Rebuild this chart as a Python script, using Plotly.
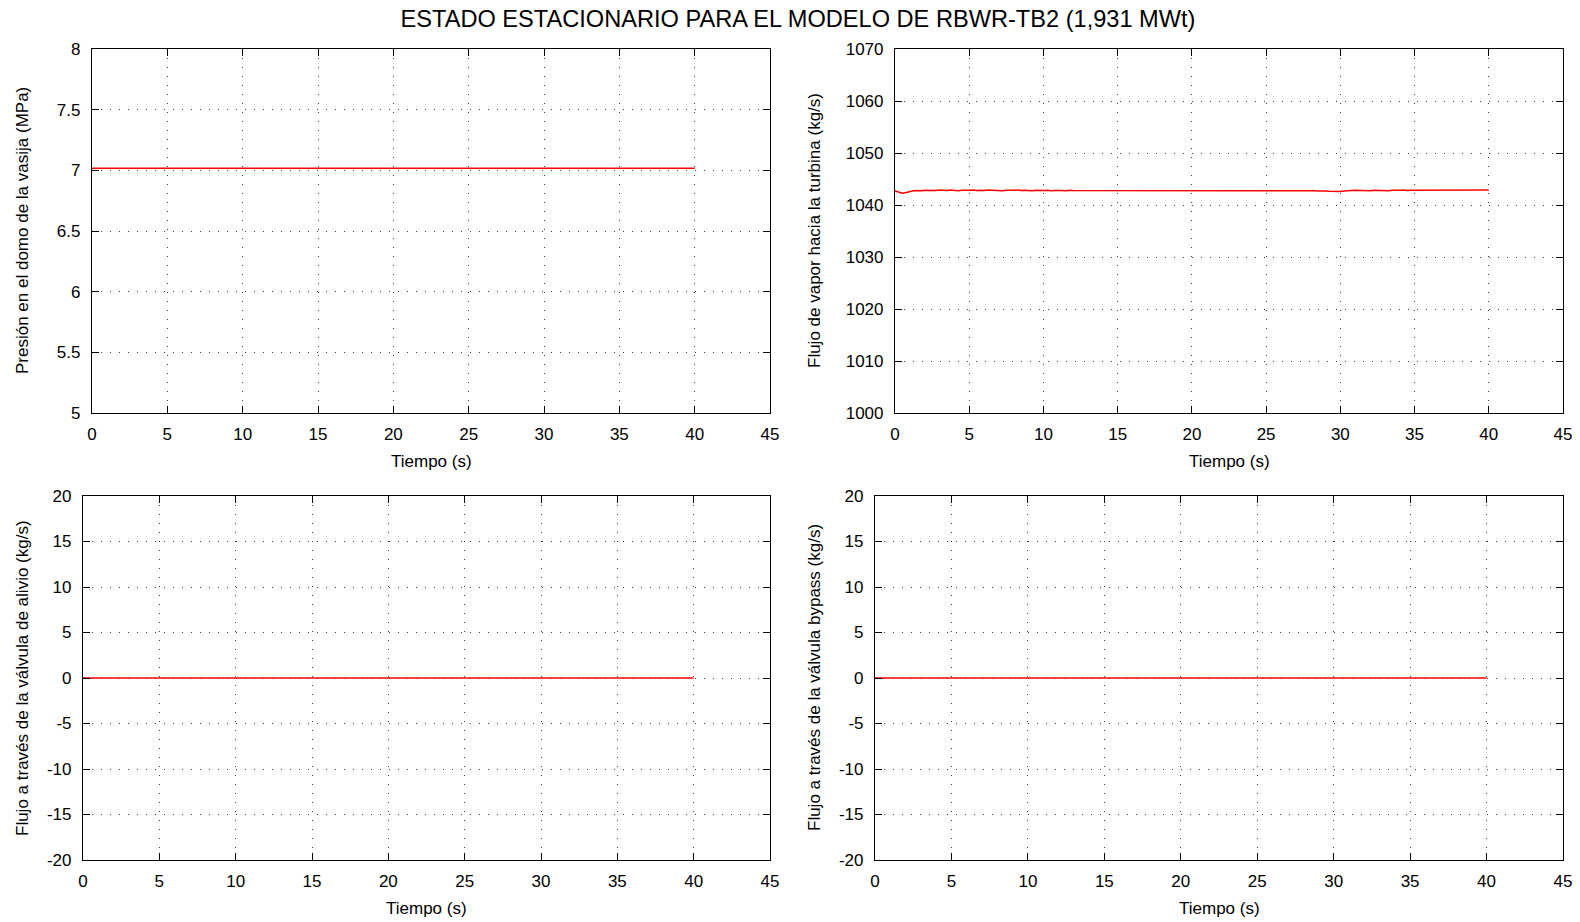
import plotly.graph_objects as go

# Simulation time (s), sampled every 0.25 s from 0 to 40 s
tiempo = [i * 0.25 for i in range(161)]

# Dome pressure (MPa)
presion_domo = [7.017] * 161

# Steam flow to turbine (kg/s)
flujo_turbina = [
    1042.70, 1042.45, 1042.25, 1042.40, 1042.60, 1042.75, 1042.80, 1042.75, 1042.85, 1042.80,
    1042.85, 1042.80, 1042.90, 1042.85, 1042.80, 1042.90, 1042.85, 1042.75, 1042.85, 1042.80,
    1042.85, 1042.90, 1042.80, 1042.85, 1042.80, 1042.90, 1042.85, 1042.80, 1042.85, 1042.75,
    1042.85, 1042.80, 1042.85, 1042.90, 1042.80, 1042.85, 1042.80, 1042.75, 1042.85, 1042.80,
    1042.80, 1042.85, 1042.75, 1042.80, 1042.85, 1042.80, 1042.75, 1042.85, 1042.80, 1042.80,
    1042.75, 1042.85, 1042.80, 1042.75, 1042.80, 1042.85, 1042.80, 1042.75, 1042.80, 1042.85,
    1042.80, 1042.75, 1042.80, 1042.85, 1042.75, 1042.80, 1042.80, 1042.75, 1042.85, 1042.80,
    1042.75, 1042.80, 1042.85, 1042.80, 1042.75, 1042.80, 1042.75, 1042.80, 1042.85, 1042.80,
    1042.75, 1042.80, 1042.75, 1042.80, 1042.80, 1042.75, 1042.85, 1042.80, 1042.75, 1042.80,
    1042.80, 1042.75, 1042.80, 1042.85, 1042.80, 1042.75, 1042.80, 1042.75, 1042.80, 1042.85,
    1042.80, 1042.75, 1042.80, 1042.75, 1042.80, 1042.85, 1042.80, 1042.75, 1042.80, 1042.75,
    1042.80, 1042.75, 1042.80, 1042.75, 1042.70, 1042.75, 1042.70, 1042.65, 1042.60, 1042.65,
    1042.60, 1042.70, 1042.80, 1042.80, 1042.85, 1042.80, 1042.85, 1042.80, 1042.75, 1042.85,
    1042.80, 1042.85, 1042.80, 1042.75, 1042.85, 1042.80, 1042.85, 1042.90, 1042.80, 1042.85,
    1042.85, 1042.80, 1042.90, 1042.85, 1042.80, 1042.85, 1042.90, 1042.85, 1042.80, 1042.85,
    1042.90, 1042.85, 1042.80, 1042.85, 1042.90, 1042.85, 1042.80, 1042.85, 1042.90, 1042.85,
    1042.90,
]

# Relief valve flow and bypass valve flow (kg/s)
flujo_alivio = [0.0] * 161
flujo_bypass = [0.0] * 161

titulo = "ESTADO ESTACIONARIO PARA EL MODELO DE RBWR-TB2 (1,931 MWt)"
etiqueta_x = "Tiempo (s)"
etiquetas_y = [
    "Presión en el domo de la vasija (MPa)",
    "Flujo de vapor hacia la turbina (kg/s)",
    "Flujo a través de la válvula de alivio (kg/s)",
    "Flujo a través de la válvula bypass (kg/s)",
]

# Tick values and their printed labels
ticks_x = [0, 5, 10, 15, 20, 25, 30, 35, 40, 45]
ticks_presion = [5, 5.5, 6, 6.5, 7, 7.5, 8]
ticks_turbina = [1000, 1010, 1020, 1030, 1040, 1050, 1060, 1070]
ticks_valvula = [-20, -15, -10, -5, 0, 5, 10, 15, 20]
etiquetas_presion = ["5", "5.5", "6", "6.5", "7", "7.5", "8"]
etiquetas_turbina = ["1000", "1010", "1020", "1030", "1040", "1050", "1060", "1070"]
etiquetas_valvula = ["-20", "-15", "-10", "-5", "0", "5", "10", "15", "20"]

paneles = [
    (presion_domo, ticks_presion, etiquetas_presion),
    (flujo_turbina, ticks_turbina, etiquetas_turbina),
    (flujo_alivio, ticks_valvula, etiquetas_valvula),
    (flujo_bypass, ticks_valvula, etiquetas_valvula),
]

W, H = 1580, 922
# plot-area boxes in pixels: (left, right, top, bottom)
cajas = [
    (92, 770, 49, 413),
    (895, 1563, 49, 413),
    (83, 770, 496, 860),
    (875, 1563, 496, 860),
]
# centre of the rotated y-axis titles (px from left)
pos_titulo_y = [22, 814, 22, 814]

FONT = "Liberation Sans, Arial, sans-serif"
fig = go.Figure()
anotaciones = []

for i, ((ys, tv, tt), caja) in enumerate(zip(paneles, cajas)):
    n = "" if i == 0 else str(i + 1)
    l, r, t, b = caja
    fig.add_trace(go.Scatter(
        x=tiempo, y=ys, mode="lines",
        line=dict(color="#ff0000", width=1.5),
        xaxis="x" + n, yaxis="y" + n, showlegend=False,
    ))
    eje = dict(
        showline=True, linecolor="black", linewidth=1.2, mirror="ticks",
        ticks="inside", ticklen=7, tickcolor="black", tickwidth=1,
        showgrid=True, gridcolor="#3c3c3c", gridwidth=1, griddash="1px,8px",
        zeroline=False, automargin=False,
        tickfont=dict(family=FONT, size=17, color="black"),
    )
    fig.layout["xaxis" + n] = dict(
        eje, domain=[l / W, r / W], range=[0, 45],
        tickmode="array", tickvals=ticks_x, ticktext=[str(v) for v in ticks_x],
        ticklabelstandoff=5, anchor="y" + n,
    )
    fig.layout["yaxis" + n] = dict(
        eje, domain=[1 - b / H, 1 - t / H], range=[tv[0], tv[-1]],
        tickmode="array", tickvals=tv, ticktext=tt,
        ticklabelstandoff=7, anchor="x" + n,
    )
    anotaciones.append(dict(
        text=etiqueta_x, xref="paper", yref="paper",
        x=(l + r) / 2 / W, y=1 - (b + 48) / H, xanchor="center", yanchor="middle",
        showarrow=False, font=dict(family=FONT, size=17, color="black"),
    ))
    anotaciones.append(dict(
        text=etiquetas_y[i], xref="paper", yref="paper", textangle=-90,
        x=pos_titulo_y[i] / W, y=1 - (t + b) / 2 / H, xanchor="center", yanchor="middle",
        showarrow=False, font=dict(family=FONT, size=17, color="black"),
    ))

fig.update_layout(
    template="none",
    width=W, height=H,
    margin=dict(l=0, r=0, t=0, b=0),
    paper_bgcolor="white", plot_bgcolor="white",
    annotations=anotaciones,
    title=dict(text=titulo, x=798 / W, xanchor="center", y=1 - 19 / H, yanchor="middle",
               font=dict(family=FONT, size=23.6, color="black")),
)

fig.write_html("out.html")
